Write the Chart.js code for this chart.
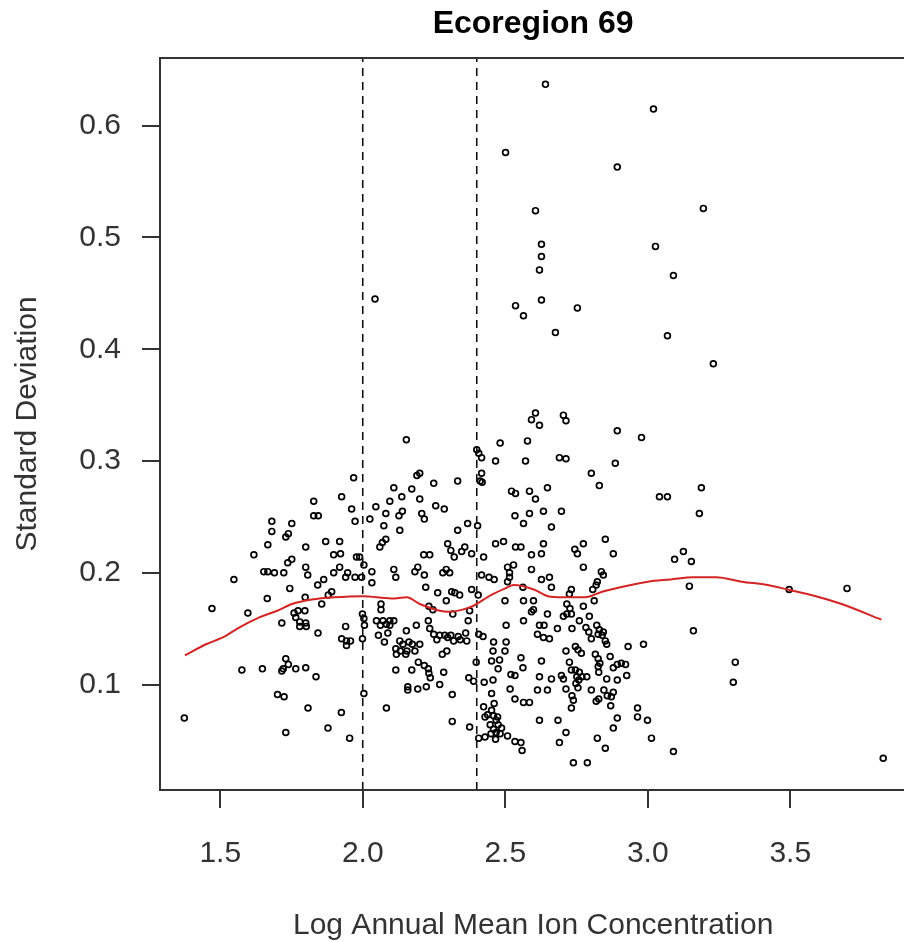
<!DOCTYPE html>
<html><head><meta charset="utf-8">
<script src="https://cdn.jsdelivr.net/npm/chart.js@4/dist/chart.umd.min.js"></script>
<style>html,body{margin:0;padding:0;background:#fff;overflow:hidden;width:904px;height:942px}
#wrap{width:912px;height:942px}</style></head>
<body><div id="wrap"><canvas id="c" width="912" height="942"></canvas></div>
<script>
// Log annual mean ion concentration (x) of each site
const ionConc = [
1.968,1.926,1.828,1.961,1.828,1.844,1.973,1.681,1.751,1.681,
1.739,1.730,1.870,1.919,1.667,1.800,1.618,1.898,1.922,1.978,
1.751,1.737,1.800,1.919,1.653,1.667,1.690,1.723,1.898,1.807,
1.947,1.940,1.973,1.548,1.863,1.842,1.744,1.891,1.879,1.665,
1.798,1.471,1.597,1.716,1.759,1.773,1.797,1.765,1.779,1.800,
1.779,1.802,1.843,1.856,1.940,1.926,1.943,1.957,1.943,1.730,
1.739,1.721,1.716,1.576,1.648,1.765,1.800,1.836,1.701,1.724,
1.808,1.925,1.374,1.878,1.730,1.954,
2.153,2.482,2.400,2.407,2.417,2.466,2.200,2.190,2.417,2.412,
2.419,2.249,2.333,2.109,2.172,2.522,2.536,2.137,2.200,2.095,
2.046,2.256,2.286,2.139,2.127,2.081,2.207,2.216,2.534,2.025,
2.368,2.403,2.074,2.333,2.130,2.081,2.069,2.060,2.298,2.309,
2.321,2.358,2.347,2.382,2.466,2.494,2.214,2.235,2.424,1.989,
2.004,2.536,2.032,2.109,2.193,2.183,2.216,2.293,2.281,2.305,
2.508,2.529,2.515,2.515,2.508,2.116,1.996,2.032,2.417,2.443,
2.461,2.221,2.263,2.312,2.323,2.340,2.382,2.405,
2.064,2.064,1.999,2.004,2.006,1.999,2.048,2.071,2.095,2.109,
2.083,2.095,2.062,2.055,2.076,2.088,2.153,2.188,2.230,2.235,
2.232,2.246,2.293,2.316,2.375,2.370,2.130,2.141,2.116,2.132,
2.118,2.155,2.151,2.162,2.174,2.183,2.200,2.249,2.260,2.270,
2.288,2.298,2.309,2.319,2.335,2.342,2.361,2.365,2.295,2.279,
2.195,2.216,2.230,2.232,2.237,2.116,2.172,2.284,2.158,2.158,
2.193,2.223,2.270,2.004,2.314,2.083,2.314,2.375,2.407,2.422,
2.398,2.372,2.389,2.426,2.457,2.459,2.457,2.503,2.499,2.480,
2.452,2.503,2.499,2.475,2.520,2.534,2.517,2.452,2.534,2.424,
2.461,2.452,2.429,2.438,2.459,2.473,2.468,2.447,2.459,2.475,
2.487,2.450,2.468,2.482,2.508,2.466,2.429,2.407,2.534,
2.606,2.592,2.620,2.704,2.713,2.893,2.978,2.578,2.571,2.690,
2.713,2.886,2.802,2.830,2.648,2.585,2.606,3.041,3.069,2.585,
2.634,2.697,2.564,2.662,2.851,2.634,2.774,2.555,2.592,2.627,
2.744,2.753,2.879,3.094,2.774,2.592,2.627,2.655,2.837,2.844,
2.823,2.819,2.807,2.662,2.732,2.725,2.562,
2.564,2.599,2.716,2.727,2.716,2.732,2.774,2.812,2.599,2.592,
2.648,2.704,2.795,2.760,2.564,2.620,2.636,2.613,2.634,2.655,
2.683,2.734,2.783,2.793,2.802,2.821,2.830,2.826,2.840,2.851,
2.856,2.844,2.931,2.985,2.713,2.746,2.755,2.767,2.627,2.725,
2.816,2.826,2.832,2.826,2.828,2.868,2.879,2.893,2.907,2.922,
2.926,2.555,2.562,2.620,2.662,2.697,2.704,2.732,2.746,2.760,
2.769,2.786,2.751,2.758,2.748,2.755,2.734,2.739,2.732,2.856,
2.893,2.613,2.648,2.713,2.802,2.846,2.858,2.872,2.879,2.870,
2.828,2.819,2.564,2.585,2.620,2.685,2.893,2.879,2.964,2.964,
2.999,2.713,2.690,2.555,2.559,2.823,2.851,3.013,2.739,2.788,
3.090,
2.641,3.020,2.501,2.893,2.606,3.195,2.627,2.627,2.620,3.027,
3.090,2.627,2.536,2.564,2.753,2.676,3.069,3.230,2.043,
3.188,3.181,3.125,3.153,3.146,3.496,3.699,3.160,3.307,3.300,
3.826
];
// Standard deviation (y) of each site, same order
const stdDev = [
0.285,0.268,0.264,0.257,0.251,0.251,0.246,0.246,0.244,0.237,
0.235,0.232,0.228,0.228,0.225,0.223,0.216,0.216,0.217,0.214,
0.212,0.209,0.205,0.205,0.201,0.201,0.200,0.200,0.200,0.198,
0.200,0.196,0.196,0.194,0.194,0.189,0.186,0.183,0.180,0.177,
0.178,0.168,0.164,0.155,0.164,0.166,0.166,0.160,0.156,0.155,
0.152,0.152,0.146,0.172,0.152,0.141,0.139,0.139,0.135,0.123,
0.118,0.114,0.112,0.113,0.114,0.114,0.115,0.107,0.091,0.089,
0.079,0.075,0.070,0.061,0.057,0.052,
0.319,0.316,0.310,0.307,0.303,0.300,0.289,0.287,0.289,0.282,
0.281,0.280,0.282,0.276,0.275,0.273,0.271,0.268,0.266,0.264,
0.259,0.260,0.257,0.255,0.251,0.253,0.253,0.248,0.251,0.248,
0.244,0.242,0.242,0.238,0.238,0.230,0.227,0.223,0.226,0.220,
0.214,0.223,0.219,0.217,0.226,0.228,0.216,0.216,0.214,0.214,
0.207,0.223,0.201,0.203,0.205,0.201,0.198,0.203,0.200,0.200,
0.205,0.207,0.200,0.196,0.192,0.196,0.196,0.191,0.198,0.196,
0.194,0.187,0.182,0.183,0.182,0.180,0.185,0.180,
0.172,0.167,0.163,0.159,0.153,0.141,0.157,0.157,0.157,0.157,
0.154,0.153,0.153,0.144,0.138,0.146,0.148,0.153,0.157,0.150,
0.170,0.167,0.175,0.163,0.166,0.157,0.139,0.136,0.132,0.130,
0.127,0.130,0.127,0.138,0.136,0.130,0.136,0.145,0.140,0.144,
0.144,0.142,0.144,0.139,0.143,0.140,0.146,0.139,0.130,0.127,
0.120,0.117,0.114,0.110,0.106,0.113,0.113,0.111,0.098,0.095,
0.096,0.098,0.100,0.092,0.091,0.079,0.067,0.062,0.145,0.143,
0.120,0.106,0.103,0.102,0.104,0.138,0.130,0.138,0.130,0.122,
0.121,0.153,0.175,0.114,0.109,0.108,0.096,0.092,0.087,0.080,
0.083,0.077,0.071,0.073,0.072,0.071,0.068,0.064,0.060,0.064,
0.061,0.056,0.057,0.056,0.054,0.051,0.053,0.052,0.049,
0.343,0.337,0.332,0.341,0.336,0.327,0.321,0.318,0.300,0.303,
0.302,0.298,0.289,0.278,0.276,0.273,0.266,0.268,0.268,0.253,
0.255,0.255,0.244,0.241,0.230,0.226,0.226,0.223,0.216,0.217,
0.221,0.217,0.217,0.212,0.205,0.203,0.194,0.196,0.201,0.198,
0.192,0.189,0.185,0.187,0.185,0.181,0.187,
0.175,0.175,0.172,0.168,0.163,0.163,0.170,0.175,0.167,0.165,
0.163,0.161,0.161,0.157,0.157,0.153,0.153,0.145,0.142,0.141,
0.150,0.150,0.151,0.147,0.141,0.153,0.149,0.145,0.144,0.139,
0.136,0.147,0.134,0.136,0.130,0.134,0.131,0.128,0.121,0.120,
0.127,0.123,0.119,0.116,0.111,0.125,0.115,0.118,0.119,0.118,
0.108,0.124,0.115,0.107,0.105,0.108,0.105,0.113,0.113,0.111,
0.107,0.107,0.107,0.104,0.101,0.097,0.090,0.086,0.079,0.105,
0.104,0.095,0.095,0.096,0.095,0.095,0.090,0.089,0.093,0.081,
0.087,0.085,0.084,0.084,0.068,0.068,0.070,0.061,0.079,0.071,
0.068,0.057,0.048,0.048,0.041,0.052,0.043,0.052,0.030,0.030,
0.040,
0.637,0.615,0.576,0.563,0.524,0.526,0.494,0.483,0.471,0.492,
0.466,0.444,0.439,0.430,0.437,0.415,0.412,0.387,0.445,
0.276,0.253,0.219,0.210,0.188,0.185,0.186,0.148,0.120,0.102,
0.034
];
// Smoothed (loess) curve
const loessX = [1.376,1.45,1.516,1.56,1.637,1.7,1.752,1.822,1.9,2.0,2.1,2.155,2.2,2.27,2.3,2.35,2.385,2.45,2.5,2.53,2.6,2.65,2.7,2.78,2.84,2.92,3.0,3.08,3.16,3.24,3.33,3.42,3.49,3.59,3.68,3.82];
const loessY = [0.126,0.136,0.143,0.150,0.160,0.166,0.172,0.176,0.178,0.179,0.177,0.178,0.172,0.166,0.165,0.167,0.170,0.180,0.186,0.189,0.185,0.179,0.178,0.178,0.183,0.188,0.192,0.194,0.196,0.196,0.192,0.189,0.185,0.179,0.172,0.158];
// Vertical dashed reference lines
const cutoffs = [2.0, 2.4];
const xTicks = [1.5, 2.0, 2.5, 3.0, 3.5];
const yTicks = [0.1, 0.2, 0.3, 0.4, 0.5, 0.6];
const xRange = [1.2887, 3.907];
const yRange = [0.0056, 0.6606];

const FONT = "'Liberation Sans', Arial, sans-serif";
const points = ionConc.map((x, i) => ({x, y: stdDev[i]}));
const loess = loessX.map((x, i) => ({x, y: loessY[i]}));

const datasets = [{
  label: 'loess', data: loess, showLine: true, borderColor: 'rgb(212,36,36)', borderWidth: 2,
  pointRadius: 0, cubicInterpolationMode: 'monotone', order: 0
}];
cutoffs.forEach(c => datasets.push({
  label: 'cut ' + c, data: [{x: c, y: yRange[0]}, {x: c, y: yRange[1]}], showLine: true,
  borderColor: '#111', borderWidth: 1.6, borderDash: [8, 6], pointRadius: 0, order: 1
}));
datasets.push({
  label: 'sites', data: points, showLine: false, pointStyle: 'circle', pointRadius: 2.9,
  pointBorderWidth: 1.7, borderColor: '#000', backgroundColor: 'rgba(0,0,0,0)', order: 2
});

const boxPlugin = {
  id: 'box',
  afterDatasetsDraw(chart) {
    const {ctx, chartArea: a} = chart;
    ctx.save(); ctx.strokeStyle = '#333'; ctx.lineWidth = 2;
    ctx.strokeRect(a.left, a.top, a.right - a.left, a.bottom - a.top);
    ctx.restore();
  }
};

new Chart(document.getElementById('c'), {
  type: 'scatter',
  data: {datasets},
  plugins: [boxPlugin],
  options: {
    responsive: false, animation: false, devicePixelRatio: 1,
    layout: {padding: 0},
    plugins: {
      legend: {display: false}, tooltip: {enabled: false},
      title: {display: true, text: 'Ecoregion 69', fullSize: false, color: '#000',
        font: {family: FONT, size: 32, weight: 'bold'}, padding: {top: 5, bottom: 14.6}}
    },
    scales: {
      x: {
        type: 'linear', min: xRange[0], max: xRange[1],
        afterBuildTicks: s => { s.ticks = xTicks.map(v => ({value: v})); },
        afterFit: s => { s.height = 152; },
        ticks: {font: {family: FONT, size: 30}, color: '#333', padding: 28, maxRotation: 0, autoSkip: false,
          callback: v => Number(v).toFixed(1)},
        grid: {display: true, drawOnChartArea: false, drawTicks: true, tickLength: 18, color: '#333', lineWidth: 2},
        border: {display: false},
        title: {display: true, text: 'Log Annual Mean Ion Concentration', color: '#333',
          font: {family: FONT, size: 30, lineHeight: 1.1}, padding: {top: 0, bottom: 0}}
      },
      y: {
        type: 'linear', min: yRange[0], max: yRange[1],
        afterBuildTicks: s => { s.ticks = yTicks.map(v => ({value: v})); },
        afterFit: s => { s.width = 160; },
        ticks: {font: {family: FONT, size: 30}, color: '#333', padding: 21, autoSkip: false,
          callback: v => Number(v).toFixed(1)},
        grid: {display: true, drawOnChartArea: false, drawTicks: true, tickLength: 18, color: '#333', lineWidth: 2},
        border: {display: false},
        title: {display: true, text: 'Standard Deviation', color: '#333',
          font: {family: FONT, size: 30}, padding: {top: 10, bottom: 0}}
      }
    }
  }
});
</script>
</body></html>
